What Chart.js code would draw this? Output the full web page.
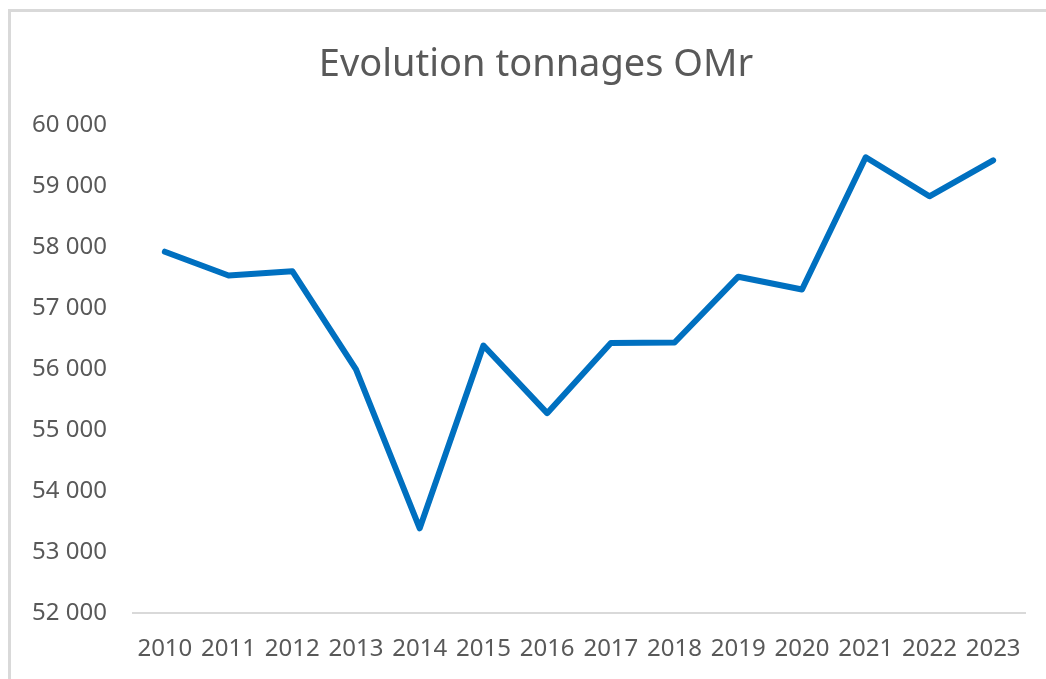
<!DOCTYPE html>
<html>
<head>
<meta charset="utf-8">
<script src="https://cdn.jsdelivr.net/npm/chart.js@4.4.0/dist/chart.umd.min.js"></script>
<style>
    body { margin: 0; background: #ffffff; }
    #frame {
        position: absolute;
        left: 8px;
        top: 9px;
        width: 1046px;
        height: 679px;
        border-left: 3px solid #d9d9d9;
        border-top: 3px solid #d9d9d9;
    }
    #wrap { position: absolute; left: 0; top: 0; width: 1046px; height: 679px; }
</style>
</head>
<body>
<div id="frame"></div>
<div id="wrap"><canvas id="chart"></canvas></div>
<script>
// Data
const years = ['2010', '2011', '2012', '2013', '2014', '2015', '2016',
    '2017', '2018', '2019', '2020', '2021', '2022', '2023'];
const tonnages = [57930, 57540, 57610, 56000, 53390, 56390, 55280,
    56430, 56440, 57520, 57310, 59480, 58840, 59430];

const textColor = '#595959';
const fontFamily = "'Noto Sans', 'Open Sans', sans-serif";

// French style thousands separator: "60 000"
const formatTick = (value) => {
    return String(value).replace(/\B(?=(\d{3})+(?!\d))/g, ' ');
};

// Excel centres the title on the whole frame, not on the chart box
const shiftTitle = {
    id: 'shiftTitle',
    afterLayout(chart) {
        if (chart.titleBlock) {
            chart.titleBlock.left = 47;
        }
    }
};

const ctx = document.getElementById('chart').getContext('2d');
new Chart(ctx, {
    type: 'line',
    data: {
        labels: years,
        datasets: [{
            label: 'Tonnages OMr',
            data: tonnages,
            borderColor: '#0070c0',
            borderWidth: 6,
            borderJoinStyle: 'round',
            borderCapStyle: 'round',
            pointRadius: 0,
            tension: 0,
            fill: false
        }]
    },
    plugins: [shiftTitle],
    options: {
        responsive: true,
        maintainAspectRatio: false,
        animation: false,
        layout: {
            padding: { left: 0, right: 21, top: 0, bottom: 0 }
        },
        plugins: {
            legend: { display: false },
            tooltip: { enabled: false },
            title: {
                display: true,
                text: 'Evolution tonnages OMr',
                color: textColor,
                font: { family: fontFamily, size: 38, weight: 'normal', lineHeight: 1.2 },
                padding: { top: 42, bottom: 38 }
            }
        },
        scales: {
            x: {
                offset: true,
                grid: { display: false, drawTicks: false, offset: true },
                border: { display: true, color: '#d9d9d9', width: 2 },
                afterFit: (scale) => { scale.height = 66; },
                ticks: {
                    color: textColor,
                    font: { family: fontFamily, size: 24 },
                    padding: 22,
                    maxRotation: 0,
                    autoSkip: false
                }
            },
            y: {
                min: 52000,
                max: 60000,
                grid: { display: false, drawTicks: false },
                border: { display: false },
                afterFit: (scale) => { scale.width = 133; },
                ticks: {
                    stepSize: 1000,
                    color: textColor,
                    font: { family: fontFamily, size: 24 },
                    padding: 26,
                    callback: (value) => formatTick(value)
                }
            }
        }
    }
});
</script>
</body>
</html>
